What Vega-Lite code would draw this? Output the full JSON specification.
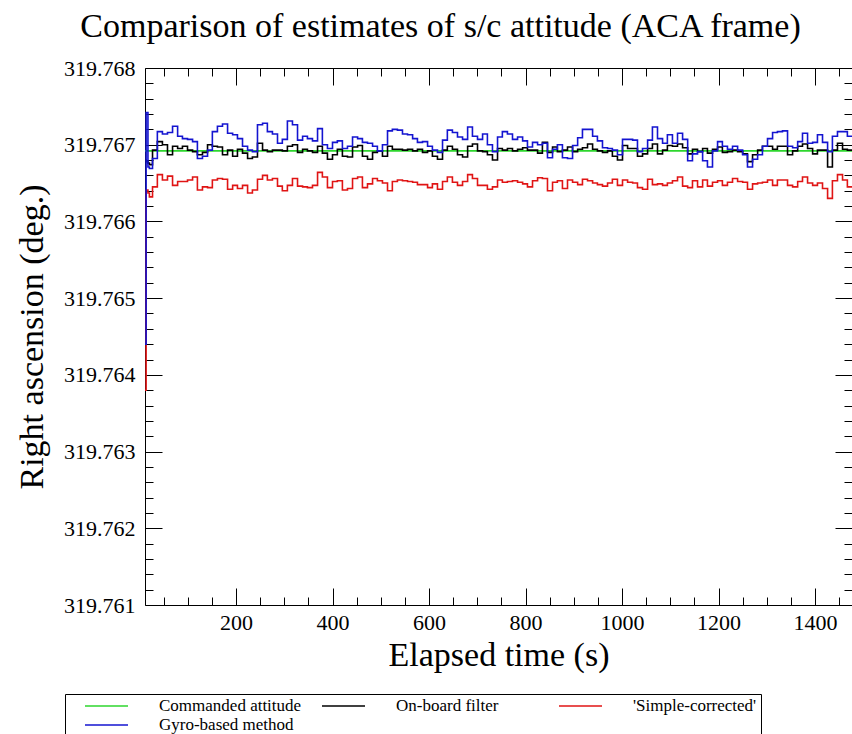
{
"$schema": "https://vega.github.io/schema/vega-lite/v6.json",
"width": 707, "height": 537,
"autosize": "none",
"padding": {"left": 145, "top": 68, "right": 0, "bottom": 129},
"background": "white",
"title": {"text": "Comparison of estimates of s/c attitude (ACA frame)", "font": "Liberation Serif", "fontSize": 34, "fontWeight": "normal", "color": "black", "anchor": "middle", "frame": "group", "dx": -58, "dy": 44, "baseline": "alphabetic", "offset": 30},
"config": {"view": {"stroke": null},
 "axis": {"domainColor": "black", "domainWidth": 1, "tickColor": "black", "tickWidth": 1, "grid": false,
  "labelFont": "Liberation Serif", "labelFontSize": 22, "labelColor": "black",
  "titleFont": "Liberation Serif", "titleFontSize": 34, "titleFontWeight": "normal", "titleColor": "black",
  "labelFlush": false, "labelOverlap": false, "labelBound": false}},
"data": {"values": [
{"t":11.4,"cmd":319.76692,"obf":319.76680,"simple":319.76380,"gyro":319.76440},
{"t":16,"cmd":319.76692,"obf":319.76678,"simple":319.76641,"gyro":319.76742},
{"t":19,"cmd":319.76692,"obf":319.76676,"simple":319.76637,"gyro":319.76671},
{"t":22,"cmd":319.76692,"obf":319.76674,"simple":319.76632,"gyro":319.76669},
{"t":32,"cmd":319.76692,"obf":319.76693,"simple":319.76645,"gyro":319.76682},
{"t":42,"cmd":319.76692,"obf":319.76704,"simple":319.76661,"gyro":319.76717},
{"t":53,"cmd":319.76692,"obf":319.76700,"simple":319.76654,"gyro":319.76714},
{"t":63,"cmd":319.76692,"obf":319.76687,"simple":319.76659,"gyro":319.76716},
{"t":74,"cmd":319.76692,"obf":319.76698,"simple":319.76647,"gyro":319.76724},
{"t":84,"cmd":319.76692,"obf":319.76695,"simple":319.76652,"gyro":319.76711},
{"t":94,"cmd":319.76692,"obf":319.76698,"simple":319.76652,"gyro":319.76708},
{"t":105,"cmd":319.76692,"obf":319.76693,"simple":319.76654,"gyro":319.76707},
{"t":115,"cmd":319.76692,"obf":319.76691,"simple":319.76658,"gyro":319.76704},
{"t":125,"cmd":319.76692,"obf":319.76687,"simple":319.76641,"gyro":319.76682},
{"t":136,"cmd":319.76692,"obf":319.76690,"simple":319.76645,"gyro":319.76685},
{"t":146,"cmd":319.76692,"obf":319.76700,"simple":319.76644,"gyro":319.76693},
{"t":156,"cmd":319.76692,"obf":319.76698,"simple":319.76654,"gyro":319.76717},
{"t":167,"cmd":319.76692,"obf":319.76697,"simple":319.76656,"gyro":319.76724},
{"t":177,"cmd":319.76692,"obf":319.76687,"simple":319.76655,"gyro":319.76727},
{"t":188,"cmd":319.76692,"obf":319.76693,"simple":319.76642,"gyro":319.76715},
{"t":198,"cmd":319.76692,"obf":319.76685,"simple":319.76647,"gyro":319.76713},
{"t":208,"cmd":319.76692,"obf":319.76694,"simple":319.76643,"gyro":319.76708},
{"t":219,"cmd":319.76692,"obf":319.76689,"simple":319.76647,"gyro":319.76698},
{"t":229,"cmd":319.76692,"obf":319.76682,"simple":319.76637,"gyro":319.76693},
{"t":239,"cmd":319.76692,"obf":319.76684,"simple":319.76641,"gyro":319.76691},
{"t":250,"cmd":319.76692,"obf":319.76702,"simple":319.76655,"gyro":319.76726},
{"t":260,"cmd":319.76692,"obf":319.76693,"simple":319.76660,"gyro":319.76728},
{"t":270,"cmd":319.76692,"obf":319.76691,"simple":319.76654,"gyro":319.76717},
{"t":281,"cmd":319.76692,"obf":319.76693,"simple":319.76656,"gyro":319.76714},
{"t":291,"cmd":319.76692,"obf":319.76693,"simple":319.76646,"gyro":319.76702},
{"t":301,"cmd":319.76692,"obf":319.76692,"simple":319.76640,"gyro":319.76707},
{"t":312,"cmd":319.76692,"obf":319.76698,"simple":319.76647,"gyro":319.76731},
{"t":322,"cmd":319.76692,"obf":319.76700,"simple":319.76656,"gyro":319.76726},
{"t":333,"cmd":319.76692,"obf":319.76690,"simple":319.76646,"gyro":319.76706},
{"t":343,"cmd":319.76692,"obf":319.76694,"simple":319.76645,"gyro":319.76711},
{"t":353,"cmd":319.76692,"obf":319.76692,"simple":319.76644,"gyro":319.76708},
{"t":364,"cmd":319.76692,"obf":319.76690,"simple":319.76647,"gyro":319.76705},
{"t":374,"cmd":319.76692,"obf":319.76698,"simple":319.76664,"gyro":319.76721},
{"t":384,"cmd":319.76692,"obf":319.76689,"simple":319.76658,"gyro":319.76700},
{"t":395,"cmd":319.76692,"obf":319.76681,"simple":319.76644,"gyro":319.76695},
{"t":405,"cmd":319.76692,"obf":319.76687,"simple":319.76652,"gyro":319.76703},
{"t":415,"cmd":319.76692,"obf":319.76694,"simple":319.76653,"gyro":319.76705},
{"t":426,"cmd":319.76692,"obf":319.76685,"simple":319.76641,"gyro":319.76695},
{"t":436,"cmd":319.76692,"obf":319.76684,"simple":319.76643,"gyro":319.76698},
{"t":447,"cmd":319.76692,"obf":319.76697,"simple":319.76656,"gyro":319.76710},
{"t":457,"cmd":319.76692,"obf":319.76699,"simple":319.76658,"gyro":319.76708},
{"t":467,"cmd":319.76692,"obf":319.76685,"simple":319.76644,"gyro":319.76703},
{"t":478,"cmd":319.76692,"obf":319.76681,"simple":319.76649,"gyro":319.76702},
{"t":488,"cmd":319.76692,"obf":319.76690,"simple":319.76656,"gyro":319.76698},
{"t":498,"cmd":319.76692,"obf":319.76692,"simple":319.76653,"gyro":319.76692},
{"t":509,"cmd":319.76692,"obf":319.76685,"simple":319.76650,"gyro":319.76700},
{"t":519,"cmd":319.76692,"obf":319.76698,"simple":319.76640,"gyro":319.76718},
{"t":529,"cmd":319.76692,"obf":319.76694,"simple":319.76652,"gyro":319.76720},
{"t":540,"cmd":319.76692,"obf":319.76694,"simple":319.76654,"gyro":319.76719},
{"t":550,"cmd":319.76692,"obf":319.76693,"simple":319.76653,"gyro":319.76714},
{"t":561,"cmd":319.76692,"obf":319.76694,"simple":319.76652,"gyro":319.76713},
{"t":571,"cmd":319.76692,"obf":319.76692,"simple":319.76651,"gyro":319.76708},
{"t":581,"cmd":319.76692,"obf":319.76694,"simple":319.76648,"gyro":319.76703},
{"t":592,"cmd":319.76692,"obf":319.76690,"simple":319.76648,"gyro":319.76704},
{"t":602,"cmd":319.76692,"obf":319.76692,"simple":319.76644,"gyro":319.76698},
{"t":612,"cmd":319.76692,"obf":319.76685,"simple":319.76649,"gyro":319.76693},
{"t":623,"cmd":319.76692,"obf":319.76681,"simple":319.76642,"gyro":319.76690},
{"t":633,"cmd":319.76692,"obf":319.76693,"simple":319.76652,"gyro":319.76706},
{"t":643,"cmd":319.76692,"obf":319.76698,"simple":319.76658,"gyro":319.76719},
{"t":654,"cmd":319.76692,"obf":319.76694,"simple":319.76651,"gyro":319.76716},
{"t":664,"cmd":319.76692,"obf":319.76687,"simple":319.76647,"gyro":319.76710},
{"t":675,"cmd":319.76692,"obf":319.76684,"simple":319.76652,"gyro":319.76707},
{"t":685,"cmd":319.76692,"obf":319.76698,"simple":319.76661,"gyro":319.76723},
{"t":695,"cmd":319.76692,"obf":319.76701,"simple":319.76656,"gyro":319.76711},
{"t":706,"cmd":319.76692,"obf":319.76692,"simple":319.76647,"gyro":319.76707},
{"t":716,"cmd":319.76692,"obf":319.76691,"simple":319.76647,"gyro":319.76714},
{"t":726,"cmd":319.76692,"obf":319.76687,"simple":319.76642,"gyro":319.76700},
{"t":737,"cmd":319.76692,"obf":319.76680,"simple":319.76645,"gyro":319.76691},
{"t":747,"cmd":319.76692,"obf":319.76695,"simple":319.76654,"gyro":319.76710},
{"t":757,"cmd":319.76692,"obf":319.76693,"simple":319.76651,"gyro":319.76717},
{"t":768,"cmd":319.76692,"obf":319.76695,"simple":319.76652,"gyro":319.76714},
{"t":778,"cmd":319.76692,"obf":319.76692,"simple":319.76653,"gyro":319.76707},
{"t":789,"cmd":319.76692,"obf":319.76694,"simple":319.76651,"gyro":319.76710},
{"t":799,"cmd":319.76692,"obf":319.76696,"simple":319.76649,"gyro":319.76705},
{"t":809,"cmd":319.76692,"obf":319.76693,"simple":319.76645,"gyro":319.76697},
{"t":820,"cmd":319.76692,"obf":319.76693,"simple":319.76653,"gyro":319.76703},
{"t":830,"cmd":319.76692,"obf":319.76689,"simple":319.76657,"gyro":319.76700},
{"t":840,"cmd":319.76692,"obf":319.76703,"simple":319.76656,"gyro":319.76702},
{"t":851,"cmd":319.76692,"obf":319.76690,"simple":319.76640,"gyro":319.76683},
{"t":861,"cmd":319.76692,"obf":319.76697,"simple":319.76651,"gyro":319.76694},
{"t":871,"cmd":319.76692,"obf":319.76691,"simple":319.76653,"gyro":319.76700},
{"t":882,"cmd":319.76692,"obf":319.76693,"simple":319.76643,"gyro":319.76683},
{"t":892,"cmd":319.76692,"obf":319.76697,"simple":319.76654,"gyro":319.76682},
{"t":903,"cmd":319.76692,"obf":319.76691,"simple":319.76651,"gyro":319.76699},
{"t":913,"cmd":319.76692,"obf":319.76694,"simple":319.76648,"gyro":319.76709},
{"t":923,"cmd":319.76692,"obf":319.76696,"simple":319.76655,"gyro":319.76720},
{"t":934,"cmd":319.76692,"obf":319.76701,"simple":319.76653,"gyro":319.76720},
{"t":944,"cmd":319.76692,"obf":319.76694,"simple":319.76650,"gyro":319.76711},
{"t":954,"cmd":319.76692,"obf":319.76692,"simple":319.76648,"gyro":319.76705},
{"t":965,"cmd":319.76692,"obf":319.76690,"simple":319.76646,"gyro":319.76696},
{"t":975,"cmd":319.76692,"obf":319.76692,"simple":319.76650,"gyro":319.76695},
{"t":985,"cmd":319.76692,"obf":319.76685,"simple":319.76655,"gyro":319.76693},
{"t":996,"cmd":319.76692,"obf":319.76680,"simple":319.76647,"gyro":319.76687},
{"t":1006,"cmd":319.76692,"obf":319.76699,"simple":319.76654,"gyro":319.76707},
{"t":1017,"cmd":319.76692,"obf":319.76695,"simple":319.76651,"gyro":319.76707},
{"t":1027,"cmd":319.76692,"obf":319.76695,"simple":319.76650,"gyro":319.76706},
{"t":1037,"cmd":319.76692,"obf":319.76685,"simple":319.76644,"gyro":319.76691},
{"t":1048,"cmd":319.76692,"obf":319.76688,"simple":319.76642,"gyro":319.76695},
{"t":1058,"cmd":319.76692,"obf":319.76695,"simple":319.76655,"gyro":319.76706},
{"t":1068,"cmd":319.76692,"obf":319.76701,"simple":319.76648,"gyro":319.76723},
{"t":1079,"cmd":319.76692,"obf":319.76688,"simple":319.76649,"gyro":319.76708},
{"t":1089,"cmd":319.76692,"obf":319.76693,"simple":319.76647,"gyro":319.76702},
{"t":1099,"cmd":319.76692,"obf":319.76699,"simple":319.76650,"gyro":319.76713},
{"t":1110,"cmd":319.76692,"obf":319.76698,"simple":319.76653,"gyro":319.76702},
{"t":1120,"cmd":319.76692,"obf":319.76701,"simple":319.76658,"gyro":319.76715},
{"t":1131,"cmd":319.76692,"obf":319.76696,"simple":319.76646,"gyro":319.76707},
{"t":1141,"cmd":319.76692,"obf":319.76688,"simple":319.76644,"gyro":319.76679},
{"t":1151,"cmd":319.76692,"obf":319.76694,"simple":319.76653,"gyro":319.76688},
{"t":1162,"cmd":319.76692,"obf":319.76691,"simple":319.76645,"gyro":319.76691},
{"t":1172,"cmd":319.76692,"obf":319.76695,"simple":319.76654,"gyro":319.76679},
{"t":1182,"cmd":319.76692,"obf":319.76689,"simple":319.76646,"gyro":319.76671},
{"t":1193,"cmd":319.76692,"obf":319.76694,"simple":319.76651,"gyro":319.76692},
{"t":1203,"cmd":319.76692,"obf":319.76697,"simple":319.76653,"gyro":319.76704},
{"t":1213,"cmd":319.76692,"obf":319.76690,"simple":319.76647,"gyro":319.76698},
{"t":1224,"cmd":319.76692,"obf":319.76691,"simple":319.76651,"gyro":319.76694},
{"t":1234,"cmd":319.76692,"obf":319.76693,"simple":319.76656,"gyro":319.76698},
{"t":1245,"cmd":319.76692,"obf":319.76691,"simple":319.76652,"gyro":319.76693},
{"t":1255,"cmd":319.76692,"obf":319.76688,"simple":319.76651,"gyro":319.76687},
{"t":1265,"cmd":319.76692,"obf":319.76678,"simple":319.76642,"gyro":319.76671},
{"t":1276,"cmd":319.76692,"obf":319.76687,"simple":319.76649,"gyro":319.76681},
{"t":1286,"cmd":319.76692,"obf":319.76693,"simple":319.76650,"gyro":319.76687},
{"t":1296,"cmd":319.76692,"obf":319.76698,"simple":319.76651,"gyro":319.76698},
{"t":1307,"cmd":319.76692,"obf":319.76698,"simple":319.76654,"gyro":319.76708},
{"t":1317,"cmd":319.76692,"obf":319.76694,"simple":319.76647,"gyro":319.76716},
{"t":1327,"cmd":319.76692,"obf":319.76698,"simple":319.76654,"gyro":319.76717},
{"t":1338,"cmd":319.76692,"obf":319.76698,"simple":319.76654,"gyro":319.76718},
{"t":1348,"cmd":319.76692,"obf":319.76687,"simple":319.76647,"gyro":319.76698},
{"t":1359,"cmd":319.76692,"obf":319.76692,"simple":319.76645,"gyro":319.76696},
{"t":1369,"cmd":319.76692,"obf":319.76698,"simple":319.76652,"gyro":319.76704},
{"t":1379,"cmd":319.76692,"obf":319.76701,"simple":319.76658,"gyro":319.76715},
{"t":1390,"cmd":319.76692,"obf":319.76695,"simple":319.76650,"gyro":319.76702},
{"t":1400,"cmd":319.76692,"obf":319.76688,"simple":319.76647,"gyro":319.76703},
{"t":1410,"cmd":319.76692,"obf":319.76693,"simple":319.76650,"gyro":319.76713},
{"t":1421,"cmd":319.76692,"obf":319.76693,"simple":319.76643,"gyro":319.76703},
{"t":1431,"cmd":319.76692,"obf":319.76671,"simple":319.76630,"gyro":319.76691},
{"t":1441,"cmd":319.76692,"obf":319.76693,"simple":319.76653,"gyro":319.76711},
{"t":1452,"cmd":319.76692,"obf":319.76702,"simple":319.76661,"gyro":319.76717},
{"t":1462,"cmd":319.76692,"obf":319.76694,"simple":319.76654,"gyro":319.76717},
{"t":1472,"cmd":319.76692,"obf":319.76693,"simple":319.76645,"gyro":319.76711},
{"t":1477,"cmd":319.76692,"obf":319.76693,"simple":319.76645,"gyro":319.76711}
]},
"transform": [{"fold": ["cmd", "obf", "simple", "gyro"], "as": ["series", "value"]}],
"layer": [
{
"mark": {"type": "line", "interpolate": "step", "strokeWidth": 1.6, "clip": true},
"encoding": {
"x": {"field": "t", "type": "quantitative",
 "scale": {"domain": [11.4, 1476.6], "nice": false, "zero": false},
 "axis": {"orient": "bottom", "values": [200,400,600,800,1000,1200,1400], "format": "d",
  "tickSize": -17, "labelPadding": 24,
  "title": "Elapsed time (s)", "titleY": 60, "titleBaseline": "alphabetic"}},
"y": {"field": "value", "type": "quantitative",
 "scale": {"domain": [319.761, 319.768], "nice": false, "zero": false},
 "axis": {"orient": "left", "values": [319.761,319.762,319.763,319.764,319.765,319.766,319.767,319.768], "format": ".3f",
  "tickSize": -17, "labelPadding": 27,
  "title": "Right ascension (deg.)", "titleX": -103, "titleBaseline": "alphabetic"}},
"color": {"field": "series", "type": "nominal",
 "scale": {"domain": ["cmd", "obf", "simple", "gyro"], "range": ["#2ed62e", "#000000", "#e01414", "#1414d0"]},
 "legend": {"title": null, "orient": "none", "direction": "horizontal", "legendX": -80, "legendY": 626, "columns": 3,
  "symbolType": "stroke", "symbolSize": 1850, "symbolStrokeWidth": 1.5,
  "labelFont": "Liberation Serif", "labelFontSize": 17, "labelColor": "black", "labelOffset": 30, "symbolOffset": 15,
  "columnPadding": 4, "rowPadding": 2, "clipHeight": 16, "strokeColor": "black", "padding": 4, "gridAlign": "all", "labelLimit": 400,
  "labelExpr": "datum.label === 'cmd' ? 'Commanded attitude' : datum.label === 'obf' ? 'On-board filter' : datum.label === 'simple' ? \"'Simple-corrected'\" : 'Gyro-based method'"}}
}
},
{
"mark": {"type": "line", "opacity": 0},
"encoding": {
"x": {"field": "t", "type": "quantitative",
 "axis": {"orient": "bottom", "values": [50,100,150,250,300,350,450,500,550,650,700,750,850,900,950,1050,1100,1150,1250,1300,1350,1450],
  "tickSize": -8, "labels": false, "domain": false, "title": null}},
"y": {"field": "value", "type": "quantitative",
 "axis": {"orient": "left", "values": [319.7612,319.7614,319.7616,319.7618,319.7622,319.7624,319.7626,319.7628,319.7632,319.7634,319.7636,319.7638,319.7642,319.7644,319.7646,319.7648,319.7652,319.7654,319.7656,319.7658,319.7662,319.7664,319.7666,319.7668,319.7672,319.7674,319.7676,319.7678],
  "tickSize": -8, "labels": false, "domain": false, "title": null}},
"detail": {"field": "series", "type": "nominal"}
}
},
{
"mark": {"type": "line", "opacity": 0},
"encoding": {
"x": {"field": "t", "type": "quantitative",
 "axis": {"orient": "top", "values": [200,400,600,800,1000,1200,1400],
  "tickSize": -17, "labels": false, "title": null}},
"y": {"field": "value", "type": "quantitative",
 "axis": {"orient": "right", "values": [319.761,319.762,319.763,319.764,319.765,319.766,319.767,319.768],
  "tickSize": -17, "labels": false, "title": null}},
"detail": {"field": "series", "type": "nominal"}
}
},
{
"mark": {"type": "line", "opacity": 0},
"encoding": {
"x": {"field": "t", "type": "quantitative",
 "axis": {"orient": "top", "values": [50,100,150,250,300,350,450,500,550,650,700,750,850,900,950,1050,1100,1150,1250,1300,1350,1450],
  "tickSize": -8, "labels": false, "domain": false, "title": null}},
"y": {"field": "value", "type": "quantitative",
 "axis": {"orient": "right", "values": [319.7612,319.7614,319.7616,319.7618,319.7622,319.7624,319.7626,319.7628,319.7632,319.7634,319.7636,319.7638,319.7642,319.7644,319.7646,319.7648,319.7652,319.7654,319.7656,319.7658,319.7662,319.7664,319.7666,319.7668,319.7672,319.7674,319.7676,319.7678],
  "tickSize": -8, "labels": false, "domain": false, "title": null}},
"detail": {"field": "series", "type": "nominal"}
}
}
],
"resolve": {"axis": {"x": "independent", "y": "independent"}}
}
